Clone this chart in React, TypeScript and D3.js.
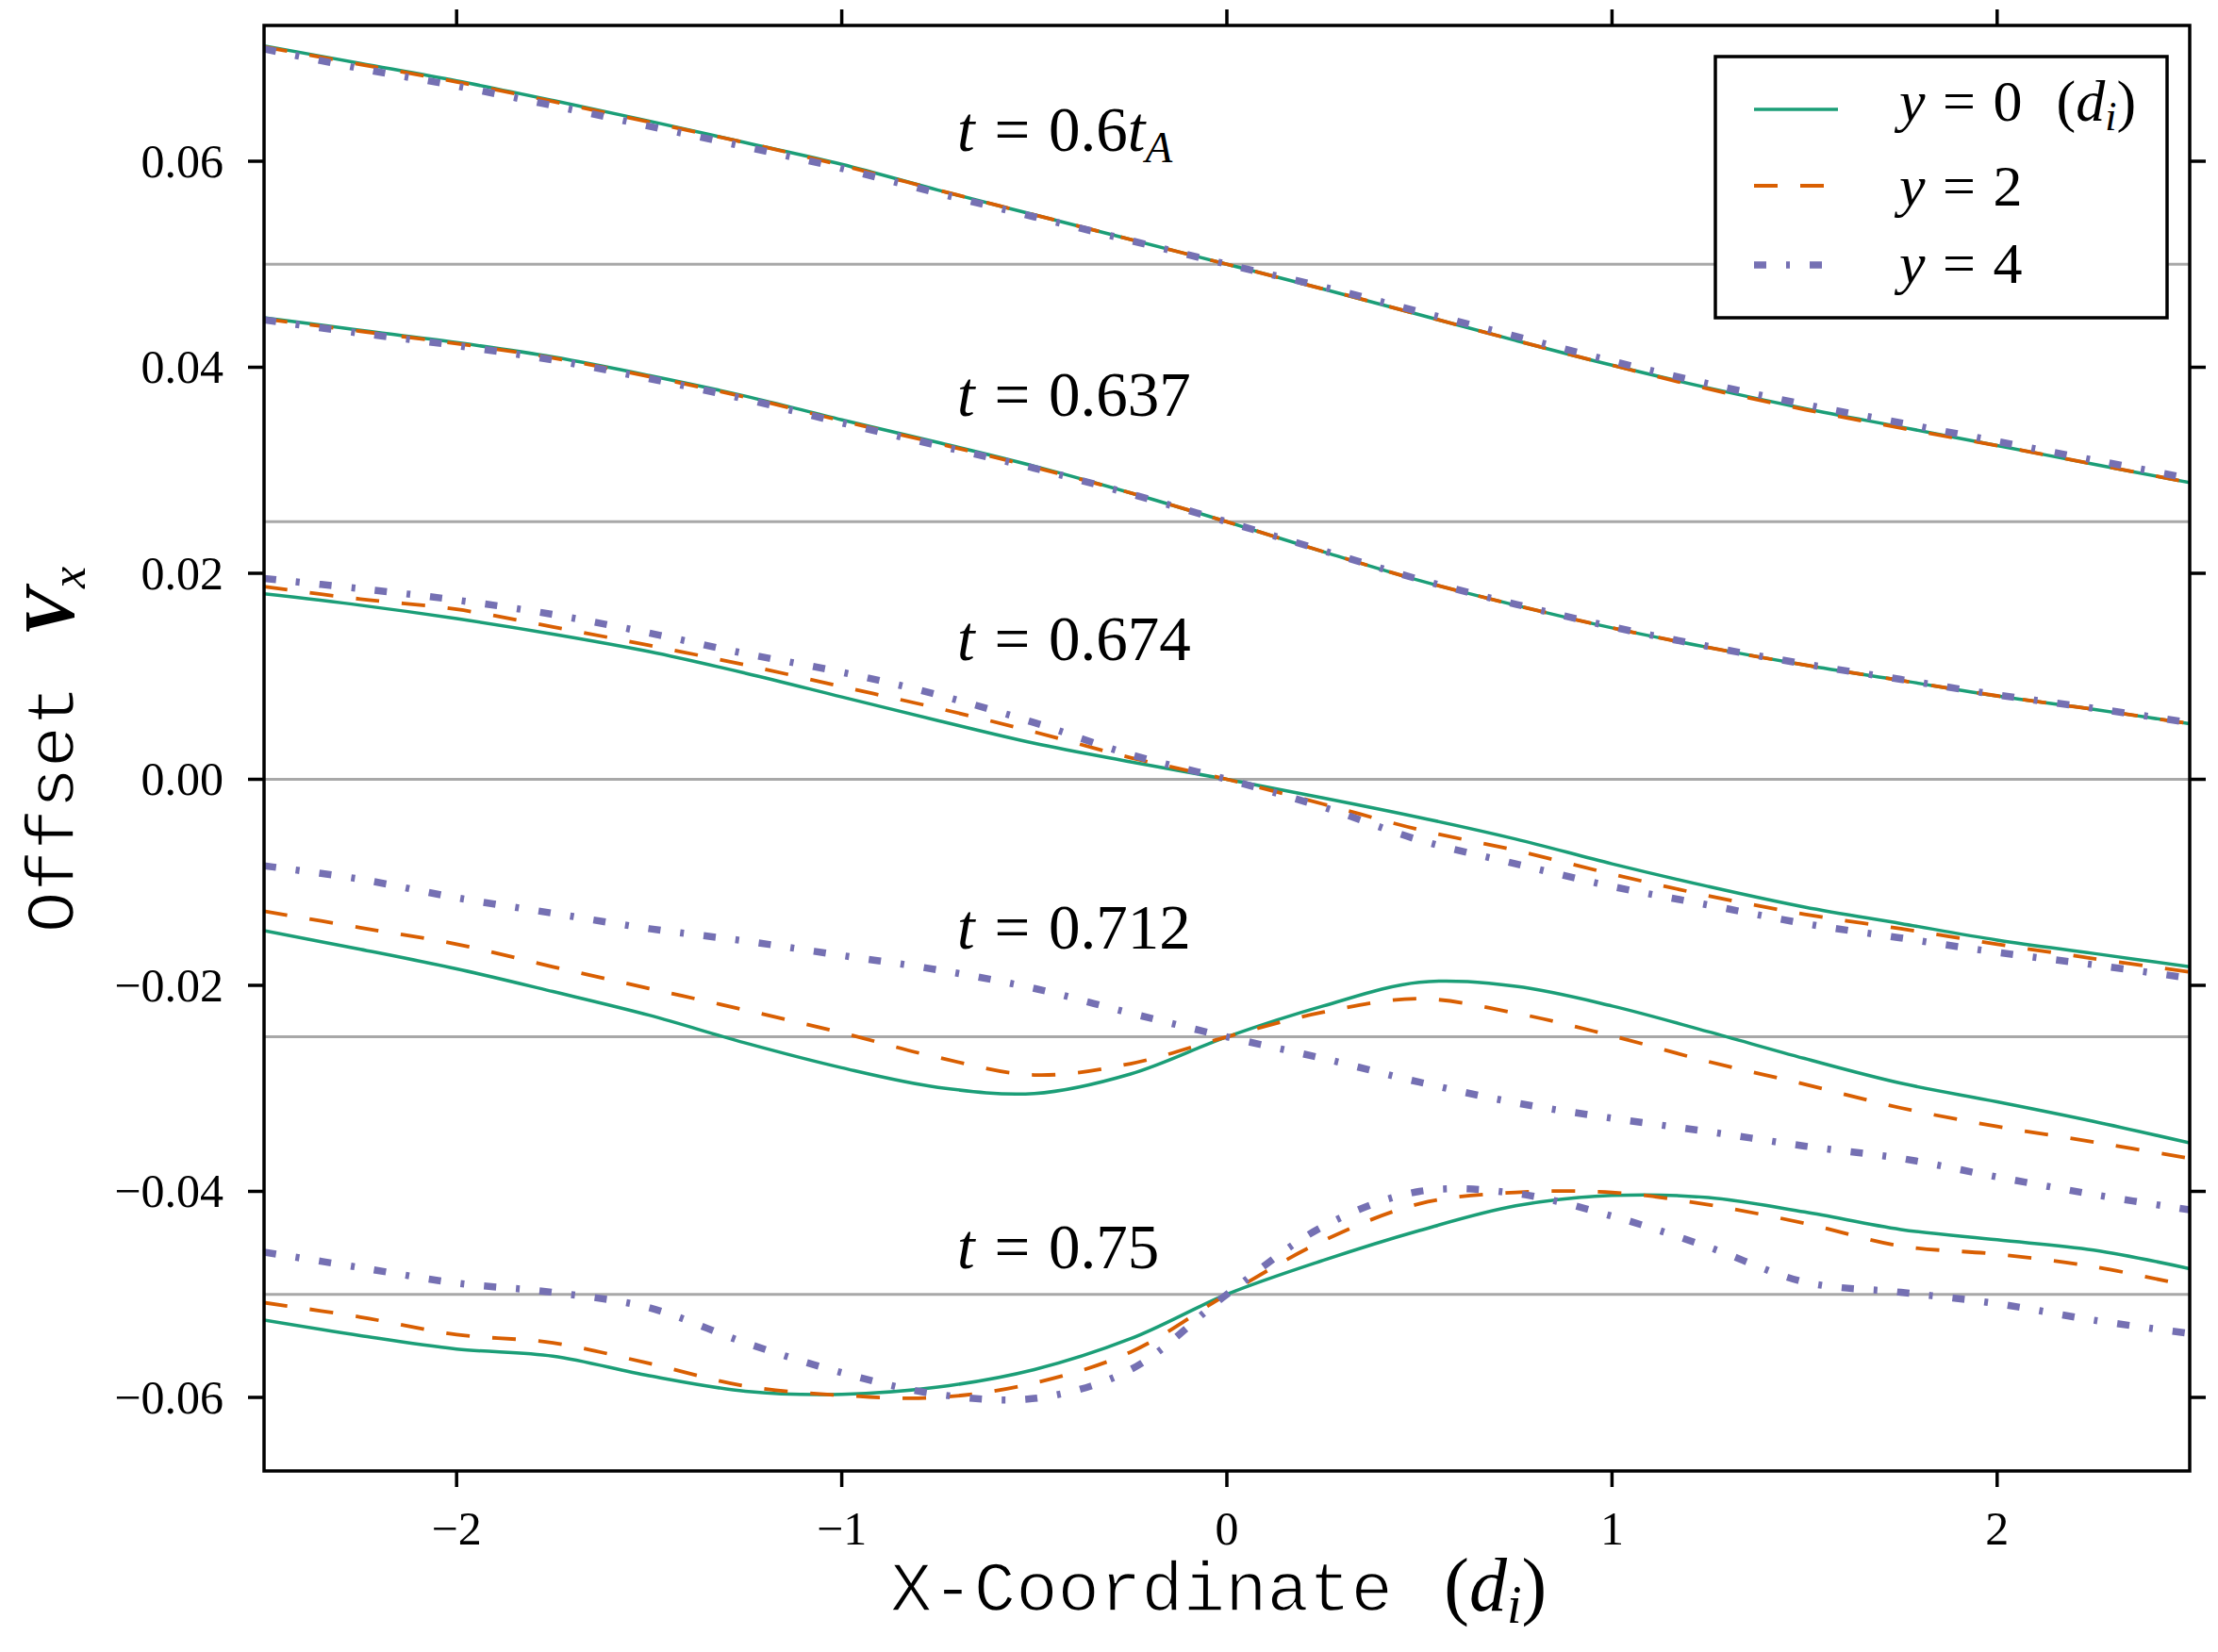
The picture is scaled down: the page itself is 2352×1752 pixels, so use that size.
import * as d3 from 'd3'

// sample positions along x (d_i)
const xs = [
  -2.5, -2.25, -2, -1.75, -1.5, -1.25, -1, -0.75, -0.5, -0.25, 0, 0.25, 0.5,
  0.75, 1, 1.25, 1.5, 1.75, 2, 2.25, 2.5,
]

// vertical offset applied to each time snapshot
const offsets = [0.05, 0.025, 0, -0.025, -0.05]
const timeLabels = ['0.6', '0.637', '0.674', '0.712', '0.75']
const labelX = -0.7
const labelY = [0.061, 0.0353, 0.0116, -0.0164, -0.0475]

// Vx at y = 0 (one row per snapshot)
const vxY0 = [
  [0.0212, 0.0195, 0.0178, 0.0159, 0.0139, 0.0118, 0.0097, 0.0072, 0.0048, 0.0024, 0, -0.0024, -0.0049, -0.0074, -0.0098, -0.012, -0.014, -0.0158, -0.0176, -0.0194, -0.0212],
  [0.0198, 0.0186, 0.0174, 0.016, 0.0142, 0.0122, 0.0099, 0.0077, 0.0054, 0.0028, 0, -0.0029, -0.0057, -0.0081, -0.0103, -0.0122, -0.0139, -0.0154, -0.0169, -0.0182, -0.0196],
  [0.018, 0.0169, 0.0156, 0.0141, 0.0124, 0.0103, 0.008, 0.0057, 0.0035, 0.0017, 0, -0.0018, -0.0037, -0.0058, -0.0082, -0.0104, -0.0124, -0.014, -0.0156, -0.0169, -0.0182],
  [0.0103, 0.0085, 0.0066, 0.0044, 0.0021, -0.0006, -0.003, -0.0049, -0.0055, -0.0036, 0, 0.003, 0.0053, 0.0049, 0.003, 0.0005, -0.0021, -0.0045, -0.0063, -0.0082, -0.0103],
  [-0.0025, -0.004, -0.0053, -0.006, -0.0079, -0.0094, -0.0097, -0.009, -0.0073, -0.0043, 0, 0.0033, 0.0062, 0.0086, 0.0096, 0.0094, 0.008, 0.0063, 0.0053, 0.0043, 0.0025],
]

// Vx at y = 2
const vxY2 = [
  [0.0211, 0.0194, 0.0177, 0.0158, 0.0138, 0.0118, 0.0096, 0.0072, 0.0048, 0.0024, 0, -0.0024, -0.0049, -0.0074, -0.0098, -0.0121, -0.0141, -0.0159, -0.0176, -0.0194, -0.0212],
  [0.0197, 0.0185, 0.0173, 0.0159, 0.0141, 0.0121, 0.0098, 0.0076, 0.0053, 0.0028, 0, -0.0029, -0.0057, -0.0081, -0.0103, -0.0122, -0.0139, -0.0154, -0.0169, -0.0182, -0.0196],
  [0.0187, 0.0175, 0.0165, 0.0148, 0.013, 0.0111, 0.009, 0.0069, 0.0046, 0.0021, 0, -0.0024, -0.0049, -0.0069, -0.0092, -0.0113, -0.0131, -0.0145, -0.016, -0.0174, -0.0187],
  [0.0122, 0.0106, 0.009, 0.0068, 0.0047, 0.0026, 0.0004, -0.002, -0.0037, -0.0026, 0, 0.0024, 0.0037, 0.0023, 0.0001, -0.0024, -0.0046, -0.0069, -0.0087, -0.0102, -0.0118],
  [-0.0008, -0.0022, -0.0039, -0.0047, -0.0067, -0.0089, -0.0098, -0.01, -0.0086, -0.0056, 0, 0.0052, 0.0088, 0.0099, 0.0099, 0.0087, 0.0069, 0.0047, 0.0039, 0.0027, 0.0008],
]

// Vx at y = 4
const vxY4 = [
  [0.0209, 0.019, 0.0173, 0.0154, 0.0134, 0.0114, 0.0093, 0.0069, 0.0046, 0.0023, 0, -0.0022, -0.0046, -0.007, -0.0094, -0.0116, -0.0136, -0.0154, -0.0172, -0.019, -0.0208],
  [0.0196, 0.0183, 0.0171, 0.0157, 0.0139, 0.0119, 0.0096, 0.0074, 0.0052, 0.0027, 0, -0.0028, -0.0056, -0.008, -0.0102, -0.0121, -0.0138, -0.0153, -0.0168, -0.0181, -0.0195],
  [0.0195, 0.0185, 0.0174, 0.016, 0.0142, 0.0122, 0.0104, 0.0082, 0.0055, 0.0024, 0, -0.0027, -0.0059, -0.0082, -0.0104, -0.0122, -0.014, -0.0154, -0.0168, -0.018, -0.0193],
  [0.0166, 0.0153, 0.0135, 0.012, 0.0105, 0.0093, 0.0079, 0.0065, 0.0047, 0.0023, 0, -0.0021, -0.0044, -0.0064, -0.0079, -0.0092, -0.0106, -0.0118, -0.0136, -0.0153, -0.0168],
  [0.0041, 0.0026, 0.0011, 0.0002, -0.0013, -0.0047, -0.0076, -0.0097, -0.0101, -0.0073, 0, 0.0066, 0.01, 0.0098, 0.0076, 0.0046, 0.0012, 0.0002, -0.0009, -0.0025, -0.0038],
]

const seriesNames = ['0', '2', '4']
const seriesData = [vxY0, vxY2, vxY4]
const colors = ['#1b9e77', '#d95f02', '#7570b3']
const dashes = ['none', '25 24', '13 21 4 21']
const widths = [3.5, 3.8, 7.5]

const xTicks = [-2, -1, 0, 1, 2]
const yTicks = [0.06, 0.04, 0.02, 0, -0.02, -0.04, -0.06]

const W = 2352
const H = 1752
const L = 280
const R = 2322
const T = 27
const B = 1560

const serif = "'Liberation Serif', 'DejaVu Serif', serif"
const mono = "'Liberation Mono', 'DejaVu Sans Mono', monospace"

export default function App() {
  const x = d3.scaleLinear().domain([-2.5, 2.5]).range([L, R])
  const y = d3.scaleLinear().domain([-0.06714, 0.07318]).range([B, T])

  const line = d3
    .line<number>()
    .x((_, i) => x(xs[i]))
    .y((d) => y(d))
    .curve(d3.curveCatmullRom.alpha(0.5))

  const fmt = d3.format('.2f')
  const tickLen = 17

  const legendRows = [116, 197, 281]
  const legendBase = [128, 218, 300]

  return (
    <svg
      width={W}
      height={H}
      style={{ position: 'absolute', left: 0, top: 0, background: '#fff' }}
    >
      <defs>
        <clipPath id="plot">
          <rect x={L} y={T} width={R - L} height={B - T} />
        </clipPath>
      </defs>
      <rect x={0} y={0} width={W} height={H} fill="#fff" />

      {/* baselines of each snapshot */}
      {offsets.map((o) => (
        <line
          key={'g' + o}
          x1={L}
          x2={R}
          y1={y(o)}
          y2={y(o)}
          stroke="#a8a8a8"
          strokeWidth={3}
        />
      ))}

      <g clipPath="url(#plot)">
        {offsets.map((o, gi) =>
          seriesData.map((s, si) => (
            <path
              key={`c${gi}-${si}`}
              d={line(s[gi].map((v) => v + o)) || ''}
              fill="none"
              stroke={colors[si]}
              strokeWidth={widths[si]}
              strokeDasharray={dashes[si]}
            />
          ))
        )}
      </g>

      {/* snapshot labels */}
      {timeLabels.map((t, i) => (
        <text
          key={'t' + t}
          x={x(labelX)}
          y={y(labelY[i])}
          fontFamily={serif}
          fontSize={67}
        >
          <tspan fontStyle="italic">t</tspan>
          <tspan dx={4}>{' = '}</tspan>
          <tspan dx={3}>{t}</tspan>
          {i === 0 && (
            <>
              <tspan fontStyle="italic">t</tspan>
              <tspan fontStyle="italic" fontSize={47} dy={12}>
                A
              </tspan>
            </>
          )}
        </text>
      ))}

      {/* legend */}
      <rect
        x={1819}
        y={60}
        width={479}
        height={277}
        fill="#fff"
        stroke="#000"
        strokeWidth={3.5}
      />
      {seriesNames.map((n, i) => (
        <g key={'l' + n}>
          <line
            x1={1860}
            x2={1949}
            y1={legendRows[i]}
            y2={legendRows[i]}
            stroke={colors[i]}
            strokeWidth={widths[i]}
            strokeDasharray={dashes[i]}
          />
          <text x={2014} y={legendBase[i]} fontFamily={serif} fontSize={62}>
            <tspan fontStyle="italic">y</tspan>
            <tspan dx={3}>{' = '}</tspan>
            <tspan dx={3}>{n}</tspan>
            {i === 0 && (
              <>
                <tspan dx={36}>(</tspan>
                <tspan fontStyle="italic">d</tspan>
                <tspan fontStyle="italic" fontSize={44} dy={10}>
                  i
                </tspan>
                <tspan dy={-10}>)</tspan>
              </>
            )}
          </text>
        </g>
      ))}

      {/* frame */}
      <rect
        x={L}
        y={T}
        width={R - L}
        height={B - T}
        fill="none"
        stroke="#000"
        strokeWidth={3.5}
      />

      {xTicks.map((v) => (
        <g key={'xt' + v}>
          <line x1={x(v)} x2={x(v)} y1={B} y2={B + tickLen} stroke="#000" strokeWidth={3.5} />
          <line x1={x(v)} x2={x(v)} y1={T} y2={T - tickLen} stroke="#000" strokeWidth={3.5} />
          <text
            x={x(v)}
            y={1638}
            textAnchor="middle"
            fontFamily={serif}
            fontSize={50}
          >
            {d3.format('d')(v)}
          </text>
        </g>
      ))}

      {yTicks.map((v) => (
        <g key={'yt' + v}>
          <line x1={L} x2={L - tickLen} y1={y(v)} y2={y(v)} stroke="#000" strokeWidth={3.5} />
          <line x1={R} x2={R + tickLen} y1={y(v)} y2={y(v)} stroke="#000" strokeWidth={3.5} />
          <text
            x={237}
            y={y(v)}
            dy="0.34em"
            textAnchor="end"
            fontFamily={serif}
            fontSize={50}
          >
            {fmt(v)}
          </text>
        </g>
      ))}

      {/* axis labels */}
      <text x={1292} y={1708} textAnchor="middle" fontSize={74}>
        <tspan fontFamily={mono} stroke="#fff" strokeWidth={1.6}>
          X-Coordinate{' '}
        </tspan>
        <tspan fontFamily={serif} fontSize={80} dx={10}>(</tspan>
        <tspan fontFamily={serif} fontSize={80} fontStyle="italic">d</tspan>
        <tspan fontFamily={serif} fontStyle="italic" fontSize={56} dy={13}>
          i
        </tspan>
        <tspan fontFamily={serif} fontSize={80} dy={-13}>)</tspan>
      </text>

      <text transform="translate(78,795) rotate(-90)" textAnchor="middle" fontSize={73}>
        <tspan fontFamily={mono} stroke="#fff" strokeWidth={1.6}>
          Offset{' '}
        </tspan>
        <tspan fontFamily={serif} fontStyle="italic" fontWeight="bold" fontSize={76} dx={8}>
          V
        </tspan>
        <tspan fontFamily={serif} fontStyle="italic" fontSize={52} dy={12}>
          x
        </tspan>
      </text>
    </svg>
  )
}
